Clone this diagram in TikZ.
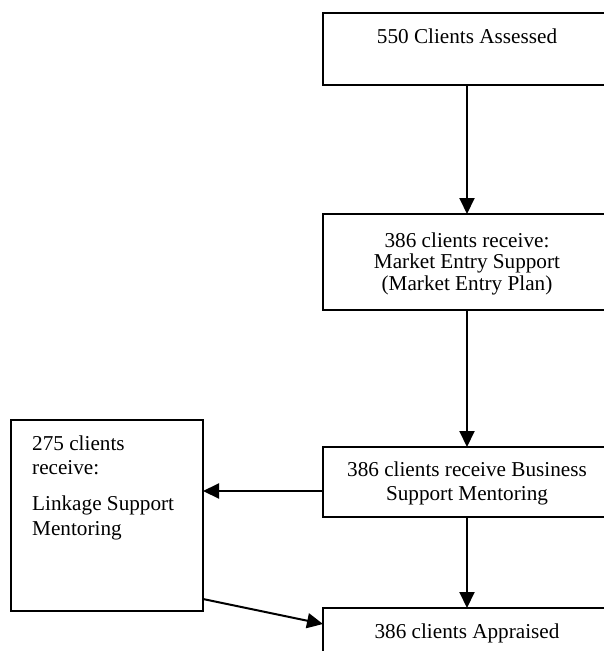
\documentclass[tikz,border=0pt]{standalone}
\usepackage{fontspec}
\setmainfont{Liberation Serif}
\usetikzlibrary{arrows.meta}
\begin{document}
\begin{tikzpicture}[x=1pt,y=-1pt,
  box/.style={draw, line width=2pt, anchor=north west, inner sep=0pt, outer sep=0pt},
  txt/.style={anchor=base, inner sep=0pt, font=\fontsize{21.2}{24}\selectfont},
  ltxt/.style={anchor=base west, inner sep=0pt, font=\fontsize{21.2}{24}\selectfont},
  arr/.style={line width=2pt, -{Triangle[length=16pt,width=15pt]}}]
\clip (0,0) rectangle (604,651);
\fill[white] (0,0) rectangle (604,651);
% boxes
\node[box, minimum width=288pt, minimum height=72pt] (b1) at (323,13) {};
\node[box, minimum width=288pt, minimum height=96pt] (b2) at (323,214) {};
\node[box, minimum width=288pt, minimum height=70pt] (b3) at (323,447) {};
\node[box, minimum width=192pt, minimum height=191pt] (lb) at (11,420) {};
\node[box, minimum width=288pt, minimum height=60pt] (ap) at (323,608) {};
% texts
\node[txt] (t1) at (467,43) {550 Clients Assessed};
\node[txt] (t2a) at (467,247) {386 clients receive:};
\node[txt] (t2b) at (467,268.5) {Market Entry Support};
\node[txt] (t2c) at (467,290) {(Market Entry Plan)};
\node[txt] (t3a) at (467,476) {386 clients receive Business};
\node[txt] (t3b) at (467,500) {Support Mentoring};
\node[ltxt] (l1) at (32,450) {275 clients};
\node[ltxt] (l2) at (32,474) {receive:};
\node[ltxt] (l3) at (32,510) {Linkage Support};
\node[ltxt] (l4) at (32,535) {Mentoring};
\node[txt] (t5) at (467,638) {386 clients Appraised};
% connectors
\draw[arr] (b1.south) -- (b2.north);
\draw[arr] (b2.south) -- (b3.north);
\draw[arr] ([yshift=-9pt]b3.west) -- ([yshift=-9pt]b3.west -| lb.east);
\draw[arr] (b3.south) -- (ap.north);
\draw[arr] ([yshift=12pt]lb.south east) -- ([yshift=-16pt]ap.north west);
\end{tikzpicture}
\end{document}
